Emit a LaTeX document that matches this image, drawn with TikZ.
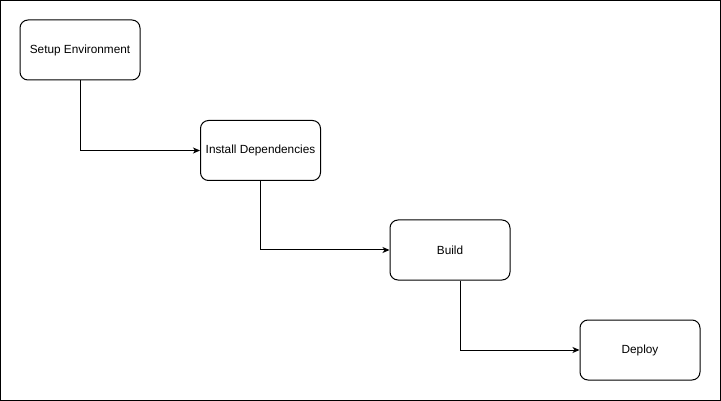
\documentclass[tikz,border=0pt]{standalone}
\usepackage{fontspec}
\setmainfont{Liberation Sans}
\usetikzlibrary{arrows.meta,positioning}
\tikzset{
  flow/step/.style={draw, rounded corners=8pt, line width=1pt, minimum width=120pt, minimum height=60pt, align=center, inner sep=0pt, font=\fontsize{11.8}{13}\selectfont},
  flow/arr/.style={line width=1pt, -{Stealth[length=7pt,width=6pt,inset=2pt]}}
}

\begin{document}
\begin{tikzpicture}[x=1pt,y=-1pt]
  \draw[line width=1pt] (0.5,0.5) rectangle (720.5,400.5);
  \useasboundingbox (0,0) rectangle (721,401);

  \node[flow/step] (setup) at (80,50) {Setup Environment};
  \node[flow/step] (install) at (260.5,150.5) {Install Dependencies};
  \node[flow/step] (build) at (450,250) {Build};
  \node[flow/step] (deploy) at (640,350) {Deploy};

  \draw[flow/arr] (setup.south) |- (install.west);
  \draw[flow/arr] (install.south) |- (build.west);
  \draw[flow/arr] ([xshift=10pt]build.south) |- (deploy.west);
\end{tikzpicture}
\end{document}
